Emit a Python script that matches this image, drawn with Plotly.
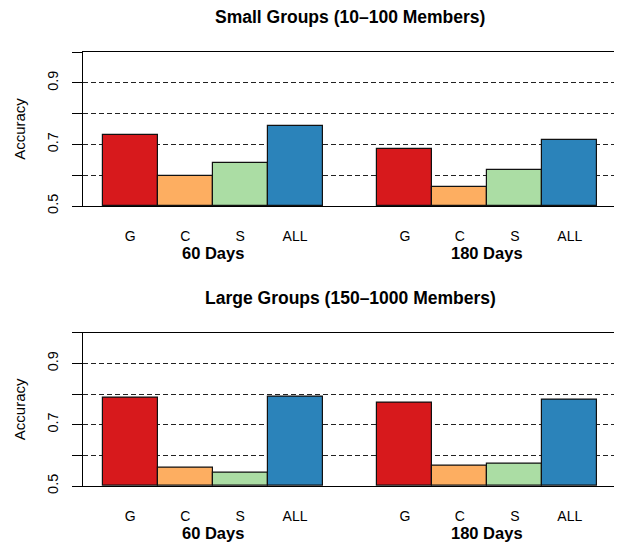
import plotly.graph_objects as go

categories = ["G", "C", "S", "ALL"]
periods = ["60 Days", "180 Days"]
colors = ["#D7191C", "#FDAE61", "#ABDDA4", "#2B83BA"]

panel_titles = ["Small Groups (10\u2013100 Members)", "Large Groups (150\u20131000 Members)"]
small_60 = [0.730, 0.597, 0.639, 0.760]
small_180 = [0.685, 0.562, 0.616, 0.713]
large_60 = [0.789, 0.559, 0.545, 0.792]
large_180 = [0.773, 0.567, 0.573, 0.783]
panels = [[small_60, small_180], [large_60, large_180]]

y_ticks = [0.5, 0.6, 0.7, 0.8, 0.9, 1.0]
y_ticktext = ["0.5", "", "0.7", "", "0.9", ""]

# page body has an 8px margin; figure sized to fit the window
OFF = 8
W, H = 622 - OFF, 544 - OFF
fig = go.Figure()


def px_x(v):
    return (v - OFF) / W


def px_y(v):
    return 1 - (v - OFF) / H


FONT = "Liberation Sans, Arial, Helvetica, sans-serif"
x_dom = [px_x(83), px_x(617)]
y_doms = [[px_y(206), px_y(52)], [px_y(486), px_y(332.7)]]

for p, (series_pair, title) in enumerate(zip(panels, panel_titles)):
    xa = "x" if p == 0 else "x2"
    ya = "y" if p == 0 else "y2"
    xs, ys, cs, tv, tt = [], [], [], [], []
    for g, vals in enumerate(series_pair):
        for i, v in enumerate(vals):
            pos = g * 5 + i + 0.5
            xs.append(pos)
            ys.append(v - 0.5)
            cs.append(colors[i])
            tv.append(pos)
            tt.append(categories[i])
    fig.add_trace(go.Bar(
        x=xs, y=ys, base=0.5, width=1.0, marker=dict(color=cs, line=dict(color="#111", width=1.2)),
        xaxis=xa, yaxis=ya, showlegend=False, hoverinfo="skip"))
    axkey = "" if p == 0 else "2"
    fig.layout["xaxis" + axkey] = dict(
        domain=x_dom, anchor=ya, range=[-0.36, 9.36], tickvals=tv, ticktext=tt, automargin=False,
        showgrid=False, zeroline=False, showline=True, mirror=True, linecolor="#000", linewidth=1.2,
        ticks="", ticklabelstandoff=17, tickfont=dict(family=FONT, size=14, color="#000"))
    fig.layout["yaxis" + axkey] = dict(
        domain=y_doms[p], anchor=xa, range=[0.5, 1.0], tickvals=y_ticks, ticktext=y_ticktext,
        automargin=False,
        showgrid=True, gridcolor="#222", griddash="5px,3px", gridwidth=1,
        zeroline=False, showline=True, mirror=True, linecolor="#000", linewidth=1.2,
        ticks="outside", ticklen=10, tickcolor="#000", tickwidth=1.2, tickangle=-90,
        ticklabelstandoff=8,
        tickfont=dict(family=FONT, size=14.5, color="#000"),
        title=dict(text="Accuracy", font=dict(family=FONT, size=15, color="#000"), standoff=15))
    top_px = 52 if p == 0 else 332.7
    bot_px = 206 if p == 0 else 486
    fig.add_annotation(text="<b>" + title + "</b>", xref="paper", yref="paper",
                       x=px_x(350), y=px_y(top_px - 35), showarrow=False,
                       font=dict(family=FONT, size=17.5, color="#000"), xanchor="center", yanchor="middle")
    for g, per in enumerate(periods):
        fig.add_annotation(text="<b>" + per + "</b>", xref=xa, yref="paper",
                           x=g * 5 + 2, y=px_y(bot_px + 47), showarrow=False,
                           font=dict(family=FONT, size=16.5, color="#000"), xanchor="center", yanchor="middle")

fig.update_layout(width=W, height=H, margin=dict(l=0, r=0, t=0, b=0),
                  paper_bgcolor="white", plot_bgcolor="white", bargap=0)
fig.write_html("out.html")
